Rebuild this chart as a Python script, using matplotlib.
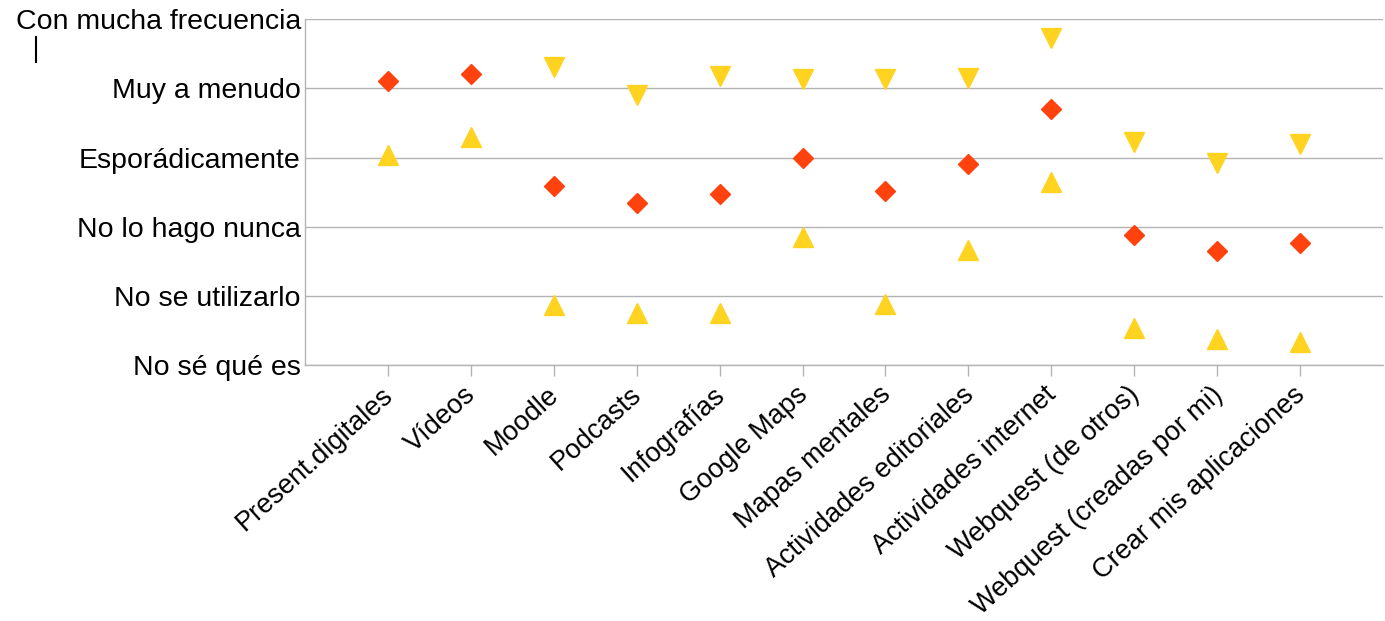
import numpy as np
import matplotlib.pyplot as plt
import matplotlib.transforms as mtransforms
from matplotlib.lines import Line2D

plt.rcParams['font.family'] = ['Liberation Sans', 'DejaVu Sans']

# datos
categorias = ["Present.digitales", "Vídeos", "Moodle", "Podcasts", "Infografías",
              "Google Maps", "Mapas mentales", "Actividades editoriales",
              "Actividades internet", "Webquest (de otros)",
              "Webquest (creadas por mi)", "Crear mis aplicaciones"]
niveles = ["No sé qué es", "No se utilizarlo", "No lo hago nunca",
           "Esporádicamente", "Muy a menudo", "Con mucha frecuencia"]

serie_rombo = [4.10, 4.20, 2.59, 2.34, 2.47, 3.00, 2.52, 2.91, 3.70, 1.88, 1.65, 1.76]
serie_abajo = [np.nan, np.nan, 4.30, 3.90, 4.17, 4.13, 4.13, 4.15, 4.73, 3.22, 2.92, 3.19]
serie_arriba = [3.04, 3.29, 0.87, 0.76, 0.75, 1.85, 0.89, 1.66, 2.65, 0.54, 0.38, 0.33]

fig = plt.figure(figsize=(13.85, 6.21), dpi=100)
ax = fig.add_axes([305 / 1385, 1 - 365.3 / 621, 1078 / 1385, 346.3 / 621])

x = np.arange(1, len(categorias) + 1)
gris = "#b3b3b3"

ax.plot(x, serie_rombo, linestyle="none", marker="D", markersize=10,
        color="#ff420e", zorder=3)
ax.plot(x, serie_abajo, linestyle="none", marker="v", markersize=14,
        color="#ffd320", zorder=3)
ax.plot(x, serie_arriba, linestyle="none", marker="^", markersize=14,
        color="#ffd320", zorder=3)

ax.set_xlim(0, 13)
ax.set_ylim(0, 5)
ax.set_yticks(range(len(niveles)))
ax.set_yticklabels(niveles, fontsize=20.5)
ax.set_xticks(x)
ax.set_xticklabels(categorias, fontsize=19.5, rotation=42, ha="right",
                   rotation_mode="anchor")
ax.tick_params(axis="y", length=0, pad=3)
ax.tick_params(axis="x", length=8, width=1, color=gris, pad=6, direction="out")
ax.yaxis.grid(True, color=gris, linewidth=1.0)
ax.set_axisbelow(True)

# mover un poco las etiquetas giradas hacia la izquierda y arriba
desplaza = mtransforms.ScaledTranslation(-7 / 100, 3 / 100, fig.dpi_scale_trans)
for etiqueta in ax.get_xticklabels():
    etiqueta.set_transform(etiqueta.get_transform() + desplaza)

for lado in ["top", "right"]:
    ax.spines[lado].set_visible(False)
for lado in ["left", "bottom"]:
    ax.spines[lado].set_color(gris)
    ax.spines[lado].set_linewidth(1.0)

# cursor de texto del original
fig.add_artist(Line2D([36 / 1385, 36 / 1385], [1 - 37 / 621, 1 - 62 / 621],
                      color="black", linewidth=1.5))

fig.savefig("out.png", dpi=100)
